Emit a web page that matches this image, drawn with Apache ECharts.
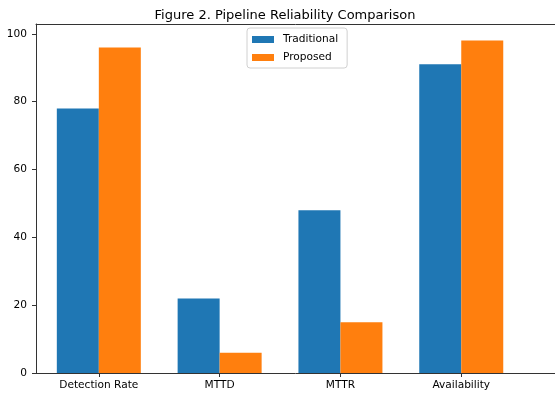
<!DOCTYPE html>
<html>
<head>
<meta charset="utf-8">
<script src="https://cdn.jsdelivr.net/npm/echarts@6/dist/echarts.min.js"></script>
<style>html,body{margin:0;padding:0;background:#fff}#c{width:555px;height:398px}</style>
</head>
<body>
<div id="c"></div>
<script>
const categories = ['Detection Rate', 'MTTD', 'MTTR', 'Availability'];
const traditional = [78, 22, 48, 91];
const proposed = [96, 6, 15, 98];
const yTicks = [0, 20, 40, 60, 80, 100];

const chart = echarts.init(document.getElementById('c'), null, {renderer: 'canvas'});
const font = 'DejaVu Sans';
const fs = 10.6;
const idx = categories.map((_, i) => i);
const axisLine = {show: true, onZero: false, lineStyle: {color: '#333', width: 1}};
const xMin = -0.52, xMax = 3.776;
chart.setOption({
  animation: false,
  title: {
    text: 'Figure 2. Pipeline Reliability Comparison',
    left: 280, textAlign: 'center', top: 4,
    textStyle: {fontFamily: font, fontSize: 13, fontWeight: 'normal', color: '#000'}
  },
  legend: {
    orient: 'vertical', left: 247, top: 28,
    itemWidth: 22, itemHeight: 7, itemGap: 7,
    padding: [6, 9, 5, 5],
    borderColor: '#d0d0d0', borderWidth: 1, borderRadius: 3,
    icon: 'rect',
    textStyle: {fontFamily: font, fontSize: fs, color: '#000', padding: [0, 0, 0, 4]},
    data: ['Traditional', 'Proposed']
  },
  grid: {left: 36, right: 0, top: 24, bottom: 25},
  xAxis: [{
    type: 'value', min: xMin, max: xMax,
    axisLine: axisLine,
    axisTick: {show: true, length: 4, customValues: idx, lineStyle: {color: '#333'}},
    axisLabel: {customValues: idx, formatter: v => categories[Math.round(v)] || '', margin: 7,
      fontFamily: font, fontSize: fs, color: '#000'},
    splitLine: {show: false}
  }, {
    type: 'value', position: 'top', min: xMin, max: xMax,
    axisLine: axisLine, axisTick: {show: false}, axisLabel: {show: false}, splitLine: {show: false}
  }],
  yAxis: {
    type: 'value', min: 0, max: 102.9,
    axisLine: axisLine,
    axisTick: {show: true, length: 4, customValues: yTicks, lineStyle: {color: '#333'}},
    axisLabel: {customValues: yTicks, margin: 9, fontFamily: font, fontSize: fs, color: '#000'},
    splitLine: {show: false}
  },
  series: [{
    name: 'Traditional', type: 'bar', barWidth: 42, barGap: '0%',
    itemStyle: {color: '#1f77b4'},
    data: traditional.map((v, i) => [i, v])
  }, {
    name: 'Proposed', type: 'bar', barWidth: 42, barGap: '0%',
    itemStyle: {color: '#ff7f0e'},
    data: proposed.map((v, i) => [i, v])
  }]
});
</script>
</body>
</html>
